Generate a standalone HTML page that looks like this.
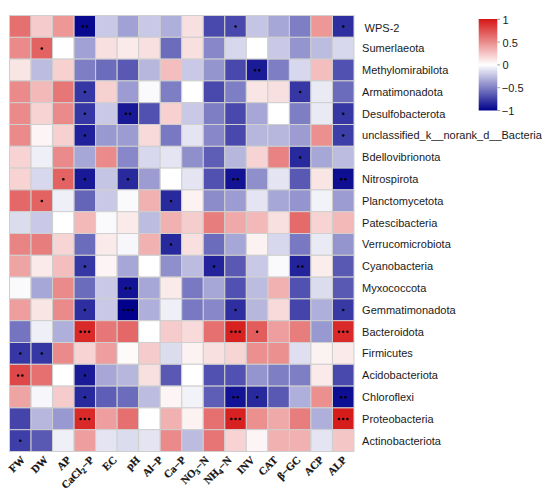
<!DOCTYPE html><html><head><meta charset="utf-8"><style>html,body{margin:0;padding:0;background:#fff;width:550px;height:499px;overflow:hidden}svg{display:block}</style></head><body>
<svg width="550" height="499" viewBox="0 0 550 499">
<defs><linearGradient id="cb" x1="0" y1="0" x2="0" y2="1">
<stop offset="0.000" stop-color="#d61616"/>
<stop offset="0.050" stop-color="#da2d2d"/>
<stop offset="0.100" stop-color="#de4545"/>
<stop offset="0.150" stop-color="#e25c5c"/>
<stop offset="0.200" stop-color="#e67373"/>
<stop offset="0.250" stop-color="#ea8a8a"/>
<stop offset="0.300" stop-color="#efa2a2"/>
<stop offset="0.350" stop-color="#f3b9b9"/>
<stop offset="0.400" stop-color="#f7d0d0"/>
<stop offset="0.450" stop-color="#fbe8e8"/>
<stop offset="0.500" stop-color="#ffffff"/>
<stop offset="0.550" stop-color="#e5e5f4"/>
<stop offset="0.600" stop-color="#cccce8"/>
<stop offset="0.650" stop-color="#b2b2dc"/>
<stop offset="0.700" stop-color="#9999d1"/>
<stop offset="0.750" stop-color="#8080c6"/>
<stop offset="0.800" stop-color="#6666ba"/>
<stop offset="0.850" stop-color="#4c4cae"/>
<stop offset="0.900" stop-color="#3333a3"/>
<stop offset="0.950" stop-color="#1a1a98"/>
<stop offset="1.000" stop-color="#00008c"/>
</linearGradient></defs>
<g stroke="#cfcfcf" stroke-width="1">
<rect x="9.50" y="15.50" width="21.53" height="21.80" fill="#e66f6f"/>
<rect x="31.03" y="15.50" width="21.53" height="21.80" fill="#f6cbcb"/>
<rect x="52.56" y="15.50" width="21.53" height="21.80" fill="#ed9797"/>
<rect x="74.09" y="15.50" width="21.53" height="21.80" fill="#090990"/>
<rect x="95.62" y="15.50" width="21.53" height="21.80" fill="#c9c9e7"/>
<rect x="117.15" y="15.50" width="21.53" height="21.80" fill="#a1a1d5"/>
<rect x="138.68" y="15.50" width="21.53" height="21.80" fill="#c9c9e7"/>
<rect x="160.21" y="15.50" width="21.53" height="21.80" fill="#afafdb"/>
<rect x="181.74" y="15.50" width="21.53" height="21.80" fill="#f9e0e0"/>
<rect x="203.27" y="15.50" width="21.53" height="21.80" fill="#4949ad"/>
<rect x="224.80" y="15.50" width="21.53" height="21.80" fill="#4949ad"/>
<rect x="246.33" y="15.50" width="21.53" height="21.80" fill="#c4c4e4"/>
<rect x="267.86" y="15.50" width="21.53" height="21.80" fill="#a7a7d7"/>
<rect x="289.39" y="15.50" width="21.53" height="21.80" fill="#7e7ec5"/>
<rect x="310.92" y="15.50" width="21.53" height="21.80" fill="#ed9797"/>
<rect x="332.45" y="15.50" width="21.53" height="21.80" fill="#2e2ea1"/>
<rect x="9.50" y="37.30" width="21.53" height="21.80" fill="#ea8a8a"/>
<rect x="31.03" y="37.30" width="21.53" height="21.80" fill="#e36262"/>
<rect x="52.56" y="37.30" width="21.53" height="21.80" fill="#ffffff"/>
<rect x="74.09" y="37.30" width="21.53" height="21.80" fill="#a1a1d5"/>
<rect x="95.62" y="37.30" width="21.53" height="21.80" fill="#f9e0e0"/>
<rect x="117.15" y="37.30" width="21.53" height="21.80" fill="#fbeaea"/>
<rect x="138.68" y="37.30" width="21.53" height="21.80" fill="#f9e0e0"/>
<rect x="160.21" y="37.30" width="21.53" height="21.80" fill="#6c6cbd"/>
<rect x="181.74" y="37.30" width="21.53" height="21.80" fill="#f9e0e0"/>
<rect x="203.27" y="37.30" width="21.53" height="21.80" fill="#8787c9"/>
<rect x="224.80" y="37.30" width="21.53" height="21.80" fill="#d7d7ed"/>
<rect x="246.33" y="37.30" width="21.53" height="21.80" fill="#ffffff"/>
<rect x="267.86" y="37.30" width="21.53" height="21.80" fill="#c9c9e7"/>
<rect x="289.39" y="37.30" width="21.53" height="21.80" fill="#9494cf"/>
<rect x="310.92" y="37.30" width="21.53" height="21.80" fill="#bcbce1"/>
<rect x="332.45" y="37.30" width="21.53" height="21.80" fill="#d7d7ed"/>
<rect x="9.50" y="59.10" width="21.53" height="21.80" fill="#fae5e5"/>
<rect x="31.03" y="59.10" width="21.53" height="21.80" fill="#bcbce1"/>
<rect x="52.56" y="59.10" width="21.53" height="21.80" fill="#f7d0d0"/>
<rect x="74.09" y="59.10" width="21.53" height="21.80" fill="#7e7ec5"/>
<rect x="95.62" y="59.10" width="21.53" height="21.80" fill="#6c6cbd"/>
<rect x="117.15" y="59.10" width="21.53" height="21.80" fill="#5959b4"/>
<rect x="138.68" y="59.10" width="21.53" height="21.80" fill="#b7b7de"/>
<rect x="160.21" y="59.10" width="21.53" height="21.80" fill="#f4bebe"/>
<rect x="181.74" y="59.10" width="21.53" height="21.80" fill="#c9c9e7"/>
<rect x="203.27" y="59.10" width="21.53" height="21.80" fill="#9494cf"/>
<rect x="224.80" y="59.10" width="21.53" height="21.80" fill="#4949ad"/>
<rect x="246.33" y="59.10" width="21.53" height="21.80" fill="#1b1b98"/>
<rect x="267.86" y="59.10" width="21.53" height="21.80" fill="#7e7ec5"/>
<rect x="289.39" y="59.10" width="21.53" height="21.80" fill="#d7d7ed"/>
<rect x="310.92" y="59.10" width="21.53" height="21.80" fill="#f4bebe"/>
<rect x="332.45" y="59.10" width="21.53" height="21.80" fill="#5151b1"/>
<rect x="9.50" y="80.90" width="21.53" height="21.80" fill="#ea8a8a"/>
<rect x="31.03" y="80.90" width="21.53" height="21.80" fill="#f3b9b9"/>
<rect x="52.56" y="80.90" width="21.53" height="21.80" fill="#e77777"/>
<rect x="74.09" y="80.90" width="21.53" height="21.80" fill="#3636a4"/>
<rect x="95.62" y="80.90" width="21.53" height="21.80" fill="#f7d0d0"/>
<rect x="117.15" y="80.90" width="21.53" height="21.80" fill="#9c9cd2"/>
<rect x="138.68" y="80.90" width="21.53" height="21.80" fill="#fafafd"/>
<rect x="160.21" y="80.90" width="21.53" height="21.80" fill="#7e7ec5"/>
<rect x="181.74" y="80.90" width="21.53" height="21.80" fill="#ffffff"/>
<rect x="203.27" y="80.90" width="21.53" height="21.80" fill="#4949ad"/>
<rect x="224.80" y="80.90" width="21.53" height="21.80" fill="#7e7ec5"/>
<rect x="246.33" y="80.90" width="21.53" height="21.80" fill="#fae5e5"/>
<rect x="267.86" y="80.90" width="21.53" height="21.80" fill="#f9e0e0"/>
<rect x="289.39" y="80.90" width="21.53" height="21.80" fill="#3636a4"/>
<rect x="310.92" y="80.90" width="21.53" height="21.80" fill="#eaeaf5"/>
<rect x="332.45" y="80.90" width="21.53" height="21.80" fill="#6c6cbd"/>
<rect x="9.50" y="102.70" width="21.53" height="21.80" fill="#ea8a8a"/>
<rect x="31.03" y="102.70" width="21.53" height="21.80" fill="#f7d3d3"/>
<rect x="52.56" y="102.70" width="21.53" height="21.80" fill="#ea8a8a"/>
<rect x="74.09" y="102.70" width="21.53" height="21.80" fill="#3636a4"/>
<rect x="95.62" y="102.70" width="21.53" height="21.80" fill="#c9c9e7"/>
<rect x="117.15" y="102.70" width="21.53" height="21.80" fill="#191997"/>
<rect x="138.68" y="102.70" width="21.53" height="21.80" fill="#5151b1"/>
<rect x="160.21" y="102.70" width="21.53" height="21.80" fill="#f7d0d0"/>
<rect x="181.74" y="102.70" width="21.53" height="21.80" fill="#c9c9e7"/>
<rect x="203.27" y="102.70" width="21.53" height="21.80" fill="#7e7ec5"/>
<rect x="224.80" y="102.70" width="21.53" height="21.80" fill="#4949ad"/>
<rect x="246.33" y="102.70" width="21.53" height="21.80" fill="#a7a7d7"/>
<rect x="267.86" y="102.70" width="21.53" height="21.80" fill="#ffffff"/>
<rect x="289.39" y="102.70" width="21.53" height="21.80" fill="#7e7ec5"/>
<rect x="310.92" y="102.70" width="21.53" height="21.80" fill="#eaeaf5"/>
<rect x="332.45" y="102.70" width="21.53" height="21.80" fill="#3636a4"/>
<rect x="9.50" y="124.50" width="21.53" height="21.80" fill="#ea8a8a"/>
<rect x="31.03" y="124.50" width="21.53" height="21.80" fill="#fdf5f5"/>
<rect x="52.56" y="124.50" width="21.53" height="21.80" fill="#f7d0d0"/>
<rect x="74.09" y="124.50" width="21.53" height="21.80" fill="#21219b"/>
<rect x="95.62" y="124.50" width="21.53" height="21.80" fill="#9999d1"/>
<rect x="117.15" y="124.50" width="21.53" height="21.80" fill="#9c9cd2"/>
<rect x="138.68" y="124.50" width="21.53" height="21.80" fill="#f9dada"/>
<rect x="160.21" y="124.50" width="21.53" height="21.80" fill="#7979c3"/>
<rect x="181.74" y="124.50" width="21.53" height="21.80" fill="#e4e4f3"/>
<rect x="203.27" y="124.50" width="21.53" height="21.80" fill="#8787c9"/>
<rect x="224.80" y="124.50" width="21.53" height="21.80" fill="#4949ad"/>
<rect x="246.33" y="124.50" width="21.53" height="21.80" fill="#b7b7de"/>
<rect x="267.86" y="124.50" width="21.53" height="21.80" fill="#b7b7de"/>
<rect x="289.39" y="124.50" width="21.53" height="21.80" fill="#9c9cd2"/>
<rect x="310.92" y="124.50" width="21.53" height="21.80" fill="#eb8f8f"/>
<rect x="332.45" y="124.50" width="21.53" height="21.80" fill="#3e3ea8"/>
<rect x="9.50" y="146.30" width="21.53" height="21.80" fill="#f7d3d3"/>
<rect x="31.03" y="146.30" width="21.53" height="21.80" fill="#efeff8"/>
<rect x="52.56" y="146.30" width="21.53" height="21.80" fill="#ea8a8a"/>
<rect x="74.09" y="146.30" width="21.53" height="21.80" fill="#a7a7d7"/>
<rect x="95.62" y="146.30" width="21.53" height="21.80" fill="#ea8a8a"/>
<rect x="117.15" y="146.30" width="21.53" height="21.80" fill="#8787c9"/>
<rect x="138.68" y="146.30" width="21.53" height="21.80" fill="#d7d7ed"/>
<rect x="160.21" y="146.30" width="21.53" height="21.80" fill="#e4e4f3"/>
<rect x="181.74" y="146.30" width="21.53" height="21.80" fill="#8f8fcc"/>
<rect x="203.27" y="146.30" width="21.53" height="21.80" fill="#5e5eb7"/>
<rect x="224.80" y="146.30" width="21.53" height="21.80" fill="#b7b7de"/>
<rect x="246.33" y="146.30" width="21.53" height="21.80" fill="#f7d3d3"/>
<rect x="267.86" y="146.30" width="21.53" height="21.80" fill="#e98282"/>
<rect x="289.39" y="146.30" width="21.53" height="21.80" fill="#29299e"/>
<rect x="310.92" y="146.30" width="21.53" height="21.80" fill="#a7a7d7"/>
<rect x="332.45" y="146.30" width="21.53" height="21.80" fill="#bcbce1"/>
<rect x="9.50" y="168.10" width="21.53" height="21.80" fill="#f7d3d3"/>
<rect x="31.03" y="168.10" width="21.53" height="21.80" fill="#d7d7ed"/>
<rect x="52.56" y="168.10" width="21.53" height="21.80" fill="#e36262"/>
<rect x="74.09" y="168.10" width="21.53" height="21.80" fill="#191997"/>
<rect x="95.62" y="168.10" width="21.53" height="21.80" fill="#c4c4e4"/>
<rect x="117.15" y="168.10" width="21.53" height="21.80" fill="#29299e"/>
<rect x="138.68" y="168.10" width="21.53" height="21.80" fill="#9c9cd2"/>
<rect x="160.21" y="168.10" width="21.53" height="21.80" fill="#ffffff"/>
<rect x="181.74" y="168.10" width="21.53" height="21.80" fill="#e4e4f3"/>
<rect x="203.27" y="168.10" width="21.53" height="21.80" fill="#5151b1"/>
<rect x="224.80" y="168.10" width="21.53" height="21.80" fill="#131395"/>
<rect x="246.33" y="168.10" width="21.53" height="21.80" fill="#8f8fcc"/>
<rect x="267.86" y="168.10" width="21.53" height="21.80" fill="#e4e4f3"/>
<rect x="289.39" y="168.10" width="21.53" height="21.80" fill="#5959b4"/>
<rect x="310.92" y="168.10" width="21.53" height="21.80" fill="#fae5e5"/>
<rect x="332.45" y="168.10" width="21.53" height="21.80" fill="#0e0e92"/>
<rect x="9.50" y="189.90" width="21.53" height="21.80" fill="#e46868"/>
<rect x="31.03" y="189.90" width="21.53" height="21.80" fill="#e36262"/>
<rect x="52.56" y="189.90" width="21.53" height="21.80" fill="#efeff8"/>
<rect x="74.09" y="189.90" width="21.53" height="21.80" fill="#6464b9"/>
<rect x="95.62" y="189.90" width="21.53" height="21.80" fill="#c9c9e7"/>
<rect x="117.15" y="189.90" width="21.53" height="21.80" fill="#fafafd"/>
<rect x="138.68" y="189.90" width="21.53" height="21.80" fill="#f1b1b1"/>
<rect x="160.21" y="189.90" width="21.53" height="21.80" fill="#29299e"/>
<rect x="181.74" y="189.90" width="21.53" height="21.80" fill="#fdf2f2"/>
<rect x="203.27" y="189.90" width="21.53" height="21.80" fill="#8c8ccb"/>
<rect x="224.80" y="189.90" width="21.53" height="21.80" fill="#9c9cd2"/>
<rect x="246.33" y="189.90" width="21.53" height="21.80" fill="#e4e4f3"/>
<rect x="267.86" y="189.90" width="21.53" height="21.80" fill="#a7a7d7"/>
<rect x="289.39" y="189.90" width="21.53" height="21.80" fill="#9494cf"/>
<rect x="310.92" y="189.90" width="21.53" height="21.80" fill="#f2f2f9"/>
<rect x="332.45" y="189.90" width="21.53" height="21.80" fill="#9c9cd2"/>
<rect x="9.50" y="211.70" width="21.53" height="21.80" fill="#dcdcef"/>
<rect x="31.03" y="211.70" width="21.53" height="21.80" fill="#c9c9e7"/>
<rect x="52.56" y="211.70" width="21.53" height="21.80" fill="#ffffff"/>
<rect x="74.09" y="211.70" width="21.53" height="21.80" fill="#f3b9b9"/>
<rect x="95.62" y="211.70" width="21.53" height="21.80" fill="#fafafd"/>
<rect x="117.15" y="211.70" width="21.53" height="21.80" fill="#fbeaea"/>
<rect x="138.68" y="211.70" width="21.53" height="21.80" fill="#bcbce1"/>
<rect x="160.21" y="211.70" width="21.53" height="21.80" fill="#f1b1b1"/>
<rect x="181.74" y="211.70" width="21.53" height="21.80" fill="#f6cdcd"/>
<rect x="203.27" y="211.70" width="21.53" height="21.80" fill="#e87d7d"/>
<rect x="224.80" y="211.70" width="21.53" height="21.80" fill="#f0a9a9"/>
<rect x="246.33" y="211.70" width="21.53" height="21.80" fill="#f3b9b9"/>
<rect x="267.86" y="211.70" width="21.53" height="21.80" fill="#f9e0e0"/>
<rect x="289.39" y="211.70" width="21.53" height="21.80" fill="#e56a6a"/>
<rect x="310.92" y="211.70" width="21.53" height="21.80" fill="#f7d3d3"/>
<rect x="332.45" y="211.70" width="21.53" height="21.80" fill="#f3b9b9"/>
<rect x="9.50" y="233.50" width="21.53" height="21.80" fill="#e98484"/>
<rect x="31.03" y="233.50" width="21.53" height="21.80" fill="#e87d7d"/>
<rect x="52.56" y="233.50" width="21.53" height="21.80" fill="#f8d5d5"/>
<rect x="74.09" y="233.50" width="21.53" height="21.80" fill="#6c6cbd"/>
<rect x="95.62" y="233.50" width="21.53" height="21.80" fill="#fbeaea"/>
<rect x="117.15" y="233.50" width="21.53" height="21.80" fill="#f7f7fb"/>
<rect x="138.68" y="233.50" width="21.53" height="21.80" fill="#f1b1b1"/>
<rect x="160.21" y="233.50" width="21.53" height="21.80" fill="#29299e"/>
<rect x="181.74" y="233.50" width="21.53" height="21.80" fill="#f9e0e0"/>
<rect x="203.27" y="233.50" width="21.53" height="21.80" fill="#6c6cbd"/>
<rect x="224.80" y="233.50" width="21.53" height="21.80" fill="#a7a7d7"/>
<rect x="246.33" y="233.50" width="21.53" height="21.80" fill="#fdf2f2"/>
<rect x="267.86" y="233.50" width="21.53" height="21.80" fill="#d7d7ed"/>
<rect x="289.39" y="233.50" width="21.53" height="21.80" fill="#7979c3"/>
<rect x="310.92" y="233.50" width="21.53" height="21.80" fill="#eaeaf5"/>
<rect x="332.45" y="233.50" width="21.53" height="21.80" fill="#9494cf"/>
<rect x="9.50" y="255.30" width="21.53" height="21.80" fill="#efa4a4"/>
<rect x="31.03" y="255.30" width="21.53" height="21.80" fill="#fbeaea"/>
<rect x="52.56" y="255.30" width="21.53" height="21.80" fill="#f4bebe"/>
<rect x="74.09" y="255.30" width="21.53" height="21.80" fill="#3636a4"/>
<rect x="95.62" y="255.30" width="21.53" height="21.80" fill="#fdf5f5"/>
<rect x="117.15" y="255.30" width="21.53" height="21.80" fill="#a7a7d7"/>
<rect x="138.68" y="255.30" width="21.53" height="21.80" fill="#ffffff"/>
<rect x="160.21" y="255.30" width="21.53" height="21.80" fill="#8f8fcc"/>
<rect x="181.74" y="255.30" width="21.53" height="21.80" fill="#bcbce1"/>
<rect x="203.27" y="255.30" width="21.53" height="21.80" fill="#23239c"/>
<rect x="224.80" y="255.30" width="21.53" height="21.80" fill="#5959b4"/>
<rect x="246.33" y="255.30" width="21.53" height="21.80" fill="#c9c9e7"/>
<rect x="267.86" y="255.30" width="21.53" height="21.80" fill="#fafafd"/>
<rect x="289.39" y="255.30" width="21.53" height="21.80" fill="#23239c"/>
<rect x="310.92" y="255.30" width="21.53" height="21.80" fill="#fceded"/>
<rect x="332.45" y="255.30" width="21.53" height="21.80" fill="#5959b4"/>
<rect x="9.50" y="277.10" width="21.53" height="21.80" fill="#fafafd"/>
<rect x="31.03" y="277.10" width="21.53" height="21.80" fill="#a7a7d7"/>
<rect x="52.56" y="277.10" width="21.53" height="21.80" fill="#ea8a8a"/>
<rect x="74.09" y="277.10" width="21.53" height="21.80" fill="#6c6cbd"/>
<rect x="95.62" y="277.10" width="21.53" height="21.80" fill="#c9c9e7"/>
<rect x="117.15" y="277.10" width="21.53" height="21.80" fill="#131395"/>
<rect x="138.68" y="277.10" width="21.53" height="21.80" fill="#a7a7d7"/>
<rect x="160.21" y="277.10" width="21.53" height="21.80" fill="#fbeaea"/>
<rect x="181.74" y="277.10" width="21.53" height="21.80" fill="#7979c3"/>
<rect x="203.27" y="277.10" width="21.53" height="21.80" fill="#a7a7d7"/>
<rect x="224.80" y="277.10" width="21.53" height="21.80" fill="#5151b1"/>
<rect x="246.33" y="277.10" width="21.53" height="21.80" fill="#bcbce1"/>
<rect x="267.86" y="277.10" width="21.53" height="21.80" fill="#f1b1b1"/>
<rect x="289.39" y="277.10" width="21.53" height="21.80" fill="#5151b1"/>
<rect x="310.92" y="277.10" width="21.53" height="21.80" fill="#dcdcef"/>
<rect x="332.45" y="277.10" width="21.53" height="21.80" fill="#5959b4"/>
<rect x="9.50" y="298.90" width="21.53" height="21.80" fill="#ee9e9e"/>
<rect x="31.03" y="298.90" width="21.53" height="21.80" fill="#fae5e5"/>
<rect x="52.56" y="298.90" width="21.53" height="21.80" fill="#ea8a8a"/>
<rect x="74.09" y="298.90" width="21.53" height="21.80" fill="#2e2ea1"/>
<rect x="95.62" y="298.90" width="21.53" height="21.80" fill="#c9c9e7"/>
<rect x="117.15" y="298.90" width="21.53" height="21.80" fill="#01018c"/>
<rect x="138.68" y="298.90" width="21.53" height="21.80" fill="#afafdb"/>
<rect x="160.21" y="298.90" width="21.53" height="21.80" fill="#efeff8"/>
<rect x="181.74" y="298.90" width="21.53" height="21.80" fill="#7979c3"/>
<rect x="203.27" y="298.90" width="21.53" height="21.80" fill="#8787c9"/>
<rect x="224.80" y="298.90" width="21.53" height="21.80" fill="#2e2ea1"/>
<rect x="246.33" y="298.90" width="21.53" height="21.80" fill="#b7b7de"/>
<rect x="267.86" y="298.90" width="21.53" height="21.80" fill="#f9dada"/>
<rect x="289.39" y="298.90" width="21.53" height="21.80" fill="#4444aa"/>
<rect x="310.92" y="298.90" width="21.53" height="21.80" fill="#afafdb"/>
<rect x="332.45" y="298.90" width="21.53" height="21.80" fill="#3939a6"/>
<rect x="9.50" y="320.70" width="21.53" height="21.80" fill="#7474c0"/>
<rect x="31.03" y="320.70" width="21.53" height="21.80" fill="#efeff8"/>
<rect x="52.56" y="320.70" width="21.53" height="21.80" fill="#afafdb"/>
<rect x="74.09" y="320.70" width="21.53" height="21.80" fill="#d92929"/>
<rect x="95.62" y="320.70" width="21.53" height="21.80" fill="#e77777"/>
<rect x="117.15" y="320.70" width="21.53" height="21.80" fill="#e46868"/>
<rect x="138.68" y="320.70" width="21.53" height="21.80" fill="#ffffff"/>
<rect x="160.21" y="320.70" width="21.53" height="21.80" fill="#f6cbcb"/>
<rect x="181.74" y="320.70" width="21.53" height="21.80" fill="#f9dada"/>
<rect x="203.27" y="320.70" width="21.53" height="21.80" fill="#e66f6f"/>
<rect x="224.80" y="320.70" width="21.53" height="21.80" fill="#d82121"/>
<rect x="246.33" y="320.70" width="21.53" height="21.80" fill="#e35d5d"/>
<rect x="267.86" y="320.70" width="21.53" height="21.80" fill="#ee9e9e"/>
<rect x="289.39" y="320.70" width="21.53" height="21.80" fill="#e87d7d"/>
<rect x="310.92" y="320.70" width="21.53" height="21.80" fill="#9999d1"/>
<rect x="332.45" y="320.70" width="21.53" height="21.80" fill="#d92929"/>
<rect x="9.50" y="342.50" width="21.53" height="21.80" fill="#3636a4"/>
<rect x="31.03" y="342.50" width="21.53" height="21.80" fill="#3636a4"/>
<rect x="52.56" y="342.50" width="21.53" height="21.80" fill="#ea8a8a"/>
<rect x="74.09" y="342.50" width="21.53" height="21.80" fill="#f7d3d3"/>
<rect x="95.62" y="342.50" width="21.53" height="21.80" fill="#ee9e9e"/>
<rect x="117.15" y="342.50" width="21.53" height="21.80" fill="#fefafa"/>
<rect x="138.68" y="342.50" width="21.53" height="21.80" fill="#f6cbcb"/>
<rect x="160.21" y="342.50" width="21.53" height="21.80" fill="#dcdcef"/>
<rect x="181.74" y="342.50" width="21.53" height="21.80" fill="#fdf2f2"/>
<rect x="203.27" y="342.50" width="21.53" height="21.80" fill="#f9e0e0"/>
<rect x="224.80" y="342.50" width="21.53" height="21.80" fill="#f8d5d5"/>
<rect x="246.33" y="342.50" width="21.53" height="21.80" fill="#eb8f8f"/>
<rect x="267.86" y="342.50" width="21.53" height="21.80" fill="#eb8f8f"/>
<rect x="289.39" y="342.50" width="21.53" height="21.80" fill="#dfdff1"/>
<rect x="310.92" y="342.50" width="21.53" height="21.80" fill="#fdf2f2"/>
<rect x="332.45" y="342.50" width="21.53" height="21.80" fill="#fbeaea"/>
<rect x="9.50" y="364.30" width="21.53" height="21.80" fill="#df4848"/>
<rect x="31.03" y="364.30" width="21.53" height="21.80" fill="#e66f6f"/>
<rect x="52.56" y="364.30" width="21.53" height="21.80" fill="#ffffff"/>
<rect x="74.09" y="364.30" width="21.53" height="21.80" fill="#1b1b98"/>
<rect x="95.62" y="364.30" width="21.53" height="21.80" fill="#a7a7d7"/>
<rect x="117.15" y="364.30" width="21.53" height="21.80" fill="#b7b7de"/>
<rect x="138.68" y="364.30" width="21.53" height="21.80" fill="#f9e0e0"/>
<rect x="160.21" y="364.30" width="21.53" height="21.80" fill="#5959b4"/>
<rect x="181.74" y="364.30" width="21.53" height="21.80" fill="#ffffff"/>
<rect x="203.27" y="364.30" width="21.53" height="21.80" fill="#5151b1"/>
<rect x="224.80" y="364.30" width="21.53" height="21.80" fill="#5151b1"/>
<rect x="246.33" y="364.30" width="21.53" height="21.80" fill="#9494cf"/>
<rect x="267.86" y="364.30" width="21.53" height="21.80" fill="#7e7ec5"/>
<rect x="289.39" y="364.30" width="21.53" height="21.80" fill="#7e7ec5"/>
<rect x="310.92" y="364.30" width="21.53" height="21.80" fill="#fbeaea"/>
<rect x="332.45" y="364.30" width="21.53" height="21.80" fill="#4949ad"/>
<rect x="9.50" y="386.10" width="21.53" height="21.80" fill="#efa4a4"/>
<rect x="31.03" y="386.10" width="21.53" height="21.80" fill="#f7f7fb"/>
<rect x="52.56" y="386.10" width="21.53" height="21.80" fill="#f6cbcb"/>
<rect x="74.09" y="386.10" width="21.53" height="21.80" fill="#29299e"/>
<rect x="95.62" y="386.10" width="21.53" height="21.80" fill="#5e5eb7"/>
<rect x="117.15" y="386.10" width="21.53" height="21.80" fill="#6c6cbd"/>
<rect x="138.68" y="386.10" width="21.53" height="21.80" fill="#bcbce1"/>
<rect x="160.21" y="386.10" width="21.53" height="21.80" fill="#fdf5f5"/>
<rect x="181.74" y="386.10" width="21.53" height="21.80" fill="#f2f2f9"/>
<rect x="203.27" y="386.10" width="21.53" height="21.80" fill="#5e5eb7"/>
<rect x="224.80" y="386.10" width="21.53" height="21.80" fill="#131395"/>
<rect x="246.33" y="386.10" width="21.53" height="21.80" fill="#29299e"/>
<rect x="267.86" y="386.10" width="21.53" height="21.80" fill="#5959b4"/>
<rect x="289.39" y="386.10" width="21.53" height="21.80" fill="#afafdb"/>
<rect x="310.92" y="386.10" width="21.53" height="21.80" fill="#eb8f8f"/>
<rect x="332.45" y="386.10" width="21.53" height="21.80" fill="#0e0e92"/>
<rect x="9.50" y="407.90" width="21.53" height="21.80" fill="#4444aa"/>
<rect x="31.03" y="407.90" width="21.53" height="21.80" fill="#b7b7de"/>
<rect x="52.56" y="407.90" width="21.53" height="21.80" fill="#9999d1"/>
<rect x="74.09" y="407.90" width="21.53" height="21.80" fill="#d92929"/>
<rect x="95.62" y="407.90" width="21.53" height="21.80" fill="#ee9e9e"/>
<rect x="117.15" y="407.90" width="21.53" height="21.80" fill="#e66f6f"/>
<rect x="138.68" y="407.90" width="21.53" height="21.80" fill="#ffffff"/>
<rect x="160.21" y="407.90" width="21.53" height="21.80" fill="#f1b1b1"/>
<rect x="181.74" y="407.90" width="21.53" height="21.80" fill="#fdf2f2"/>
<rect x="203.27" y="407.90" width="21.53" height="21.80" fill="#e66f6f"/>
<rect x="224.80" y="407.90" width="21.53" height="21.80" fill="#d82121"/>
<rect x="246.33" y="407.90" width="21.53" height="21.80" fill="#eb8f8f"/>
<rect x="267.86" y="407.90" width="21.53" height="21.80" fill="#f0a9a9"/>
<rect x="289.39" y="407.90" width="21.53" height="21.80" fill="#e87d7d"/>
<rect x="310.92" y="407.90" width="21.53" height="21.80" fill="#afafdb"/>
<rect x="332.45" y="407.90" width="21.53" height="21.80" fill="#d71c1c"/>
<rect x="9.50" y="429.70" width="21.53" height="21.80" fill="#3e3ea8"/>
<rect x="31.03" y="429.70" width="21.53" height="21.80" fill="#5959b4"/>
<rect x="52.56" y="429.70" width="21.53" height="21.80" fill="#efeff8"/>
<rect x="74.09" y="429.70" width="21.53" height="21.80" fill="#ee9e9e"/>
<rect x="95.62" y="429.70" width="21.53" height="21.80" fill="#e4e4f3"/>
<rect x="117.15" y="429.70" width="21.53" height="21.80" fill="#dcdcef"/>
<rect x="138.68" y="429.70" width="21.53" height="21.80" fill="#e4e4f3"/>
<rect x="160.21" y="429.70" width="21.53" height="21.80" fill="#ea8a8a"/>
<rect x="181.74" y="429.70" width="21.53" height="21.80" fill="#bcbce1"/>
<rect x="203.27" y="429.70" width="21.53" height="21.80" fill="#e77575"/>
<rect x="224.80" y="429.70" width="21.53" height="21.80" fill="#f7d3d3"/>
<rect x="246.33" y="429.70" width="21.53" height="21.80" fill="#fdf5f5"/>
<rect x="267.86" y="429.70" width="21.53" height="21.80" fill="#f1b1b1"/>
<rect x="289.39" y="429.70" width="21.53" height="21.80" fill="#f1b1b1"/>
<rect x="310.92" y="429.70" width="21.53" height="21.80" fill="#e4e4f3"/>
<rect x="332.45" y="429.70" width="21.53" height="21.80" fill="#f5c6c6"/>
</g>
<g fill="#000">
<circle cx="82.76" cy="26.60" r="1.25"/>
<circle cx="86.95" cy="26.60" r="1.25"/>
<circle cx="235.56" cy="26.60" r="1.25"/>
<circle cx="343.22" cy="26.60" r="1.25"/>
<circle cx="41.80" cy="48.40" r="1.25"/>
<circle cx="255.00" cy="70.20" r="1.25"/>
<circle cx="259.20" cy="70.20" r="1.25"/>
<circle cx="84.86" cy="92.00" r="1.25"/>
<circle cx="300.16" cy="92.00" r="1.25"/>
<circle cx="84.86" cy="113.80" r="1.25"/>
<circle cx="125.82" cy="113.80" r="1.25"/>
<circle cx="130.02" cy="113.80" r="1.25"/>
<circle cx="343.22" cy="113.80" r="1.25"/>
<circle cx="84.86" cy="135.60" r="1.25"/>
<circle cx="343.22" cy="135.60" r="1.25"/>
<circle cx="300.16" cy="157.40" r="1.25"/>
<circle cx="63.33" cy="179.20" r="1.25"/>
<circle cx="84.86" cy="179.20" r="1.25"/>
<circle cx="127.92" cy="179.20" r="1.25"/>
<circle cx="233.47" cy="179.20" r="1.25"/>
<circle cx="237.66" cy="179.20" r="1.25"/>
<circle cx="341.12" cy="179.20" r="1.25"/>
<circle cx="345.32" cy="179.20" r="1.25"/>
<circle cx="41.80" cy="201.00" r="1.25"/>
<circle cx="170.98" cy="201.00" r="1.25"/>
<circle cx="170.98" cy="244.60" r="1.25"/>
<circle cx="84.86" cy="266.40" r="1.25"/>
<circle cx="214.04" cy="266.40" r="1.25"/>
<circle cx="298.06" cy="266.40" r="1.25"/>
<circle cx="302.26" cy="266.40" r="1.25"/>
<circle cx="125.82" cy="288.20" r="1.25"/>
<circle cx="130.02" cy="288.20" r="1.25"/>
<circle cx="84.86" cy="310.00" r="1.25"/>
<circle cx="123.72" cy="310.00" r="1.25"/>
<circle cx="127.92" cy="310.00" r="1.25"/>
<circle cx="132.12" cy="310.00" r="1.25"/>
<circle cx="235.56" cy="310.00" r="1.25"/>
<circle cx="343.22" cy="310.00" r="1.25"/>
<circle cx="80.66" cy="331.80" r="1.25"/>
<circle cx="84.86" cy="331.80" r="1.25"/>
<circle cx="89.06" cy="331.80" r="1.25"/>
<circle cx="231.37" cy="331.80" r="1.25"/>
<circle cx="235.56" cy="331.80" r="1.25"/>
<circle cx="239.76" cy="331.80" r="1.25"/>
<circle cx="257.10" cy="331.80" r="1.25"/>
<circle cx="339.02" cy="331.80" r="1.25"/>
<circle cx="343.22" cy="331.80" r="1.25"/>
<circle cx="347.42" cy="331.80" r="1.25"/>
<circle cx="20.27" cy="353.60" r="1.25"/>
<circle cx="41.80" cy="353.60" r="1.25"/>
<circle cx="18.16" cy="375.40" r="1.25"/>
<circle cx="22.37" cy="375.40" r="1.25"/>
<circle cx="84.86" cy="375.40" r="1.25"/>
<circle cx="84.86" cy="397.20" r="1.25"/>
<circle cx="233.47" cy="397.20" r="1.25"/>
<circle cx="237.66" cy="397.20" r="1.25"/>
<circle cx="257.10" cy="397.20" r="1.25"/>
<circle cx="341.12" cy="397.20" r="1.25"/>
<circle cx="345.32" cy="397.20" r="1.25"/>
<circle cx="80.66" cy="419.00" r="1.25"/>
<circle cx="84.86" cy="419.00" r="1.25"/>
<circle cx="89.06" cy="419.00" r="1.25"/>
<circle cx="231.37" cy="419.00" r="1.25"/>
<circle cx="235.56" cy="419.00" r="1.25"/>
<circle cx="239.76" cy="419.00" r="1.25"/>
<circle cx="339.02" cy="419.00" r="1.25"/>
<circle cx="343.22" cy="419.00" r="1.25"/>
<circle cx="347.42" cy="419.00" r="1.25"/>
<circle cx="20.27" cy="440.80" r="1.25"/>
</g>
<g font-family="Liberation Sans, sans-serif" font-size="11" fill="#1a1a1a">
<text x="364.60" y="32.40">WPS-2</text>
<text x="362.10" y="52.10">Sumerlaeota</text>
<text x="362.10" y="73.90">Methylomirabilota</text>
<text x="362.10" y="95.70">Armatimonadota</text>
<text x="362.10" y="117.50">Desulfobacterota</text>
<text x="362.10" y="139.30">unclassified_k__norank_d__Bacteria</text>
<text x="362.10" y="161.10">Bdellovibrionota</text>
<text x="362.10" y="182.90">Nitrospirota</text>
<text x="362.10" y="204.70">Planctomycetota</text>
<text x="362.10" y="226.50">Patescibacteria</text>
<text x="362.10" y="248.30">Verrucomicrobiota</text>
<text x="362.10" y="270.10">Cyanobacteria</text>
<text x="362.10" y="291.90">Myxococcota</text>
<text x="362.10" y="313.70">Gemmatimonadota</text>
<text x="362.10" y="335.50">Bacteroidota</text>
<text x="362.10" y="357.30">Firmicutes</text>
<text x="362.10" y="379.10">Acidobacteriota</text>
<text x="362.10" y="400.90">Chloroflexi</text>
<text x="362.10" y="422.70">Proteobacteria</text>
<text x="362.10" y="444.50">Actinobacteriota</text>
</g>
<g font-family="Liberation Serif, serif" font-size="10.8" font-weight="bold" fill="#111" stroke="#111" stroke-width="0.2">
<text text-anchor="end" transform="translate(19.90 455.00) rotate(-45)" x="0" y="8">FW</text>
<text text-anchor="end" transform="translate(42.88 455.00) rotate(-45)" x="0" y="8">DW</text>
<text text-anchor="end" transform="translate(65.86 455.00) rotate(-45)" x="0" y="8">AP</text>
<text text-anchor="end" transform="translate(88.84 455.00) rotate(-45)" x="0" y="8">CaCl<tspan dy='2.2' font-size='8'>2</tspan><tspan dy='-2.2'>−P</tspan></text>
<text text-anchor="end" transform="translate(111.82 455.00) rotate(-45)" x="0" y="8">EC</text>
<text text-anchor="end" transform="translate(134.80 455.00) rotate(-45)" x="0" y="8">pH</text>
<text text-anchor="end" transform="translate(157.78 455.00) rotate(-45)" x="0" y="8">Al−P</text>
<text text-anchor="end" transform="translate(180.76 455.00) rotate(-45)" x="0" y="8">Ca−P</text>
<text text-anchor="end" transform="translate(203.74 455.00) rotate(-45)" x="0" y="8">NO<tspan dy='2.2' font-size='8'>3</tspan><tspan dy='-2.2'>−N</tspan></text>
<text text-anchor="end" transform="translate(226.72 455.00) rotate(-45)" x="0" y="8">NH<tspan dy='2.2' font-size='8'>4</tspan><tspan dy='-2.2'>−N</tspan></text>
<text text-anchor="end" transform="translate(249.70 455.00) rotate(-45)" x="0" y="8">INV</text>
<text text-anchor="end" transform="translate(272.68 455.00) rotate(-45)" x="0" y="8">CAT</text>
<text text-anchor="end" transform="translate(295.66 455.00) rotate(-45)" x="0" y="8">β−GC</text>
<text text-anchor="end" transform="translate(318.64 455.00) rotate(-45)" x="0" y="8">ACP</text>
<text text-anchor="end" transform="translate(341.62 455.00) rotate(-45)" x="0" y="8">ALP</text>
</g>
<rect x="478.7" y="19" width="18.6" height="91.5" fill="url(#cb)"/>
<g stroke="#888" stroke-width="0.8">
<line x1="497.3" x2="500" y1="19.30" y2="19.30"/>
<line x1="497.3" x2="500" y1="42.10" y2="42.10"/>
<line x1="497.3" x2="500" y1="64.90" y2="64.90"/>
<line x1="497.3" x2="500" y1="87.70" y2="87.70"/>
<line x1="497.3" x2="500" y1="110.50" y2="110.50"/>
</g><g font-family="Liberation Sans, sans-serif" font-size="11" fill="#1a1a1a">
<text x="502.60" y="23.70">1</text>
<text x="502.60" y="46.50">0.5</text>
<text x="502.60" y="69.30">0</text>
<text x="501.80" y="92.10">−0.5</text>
<text x="501.80" y="114.90">−1</text>
</g>
</svg></body></html>
